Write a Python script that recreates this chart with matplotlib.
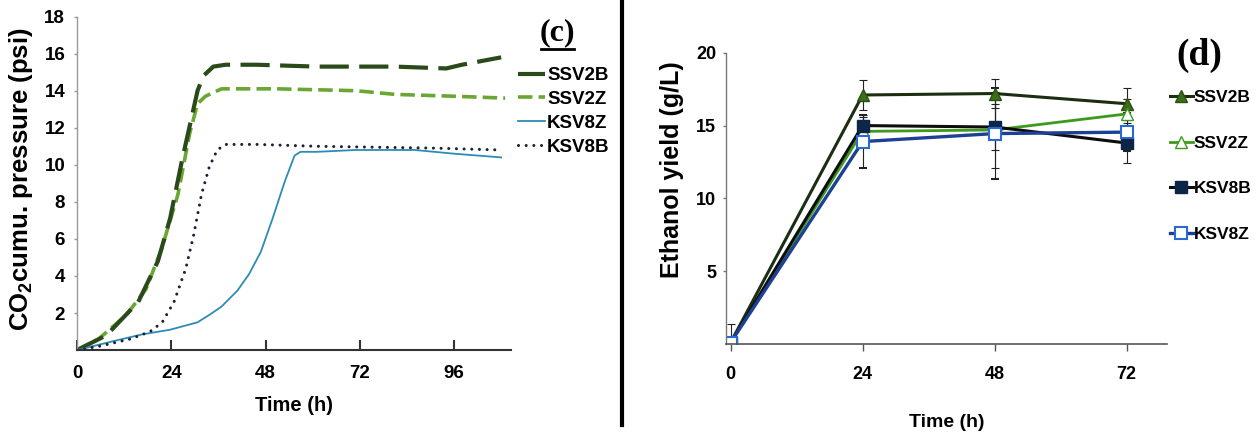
import matplotlib
matplotlib.use("Agg")
import matplotlib.pyplot as plt
from matplotlib.lines import Line2D

plt.rcParams['font.family'] = ['Liberation Sans', 'DejaVu Sans']
plt.rcParams['font.weight'] = 'bold'
plt.rcParams['mathtext.fontset'] = 'custom'
plt.rcParams['mathtext.rm'] = 'Liberation Sans:bold'
plt.rcParams['mathtext.bf'] = 'Liberation Sans:bold'

# ---- panel (c): cumulative CO2 pressure ----
ssv2b_t = [0, 7.5, 15.6, 20.6, 23.7, 26.7, 30.7, 32.2, 34.7, 37.8, 45.8, 61, 81, 94, 98, 103, 108]
ssv2b_p = [0, 0.8, 2.6, 4.8, 7.1, 10.2, 14.0, 14.8, 15.3, 15.4, 15.4, 15.3, 15.3, 15.2, 15.4, 15.6, 15.8]

ssv2z_t = [0, 5.5, 12.6, 17.6, 21.6, 25.7, 28.7, 30.7, 32.7, 36.8, 50.8, 71, 81, 96, 109]
ssv2z_p = [0, 0.6, 1.9, 3.3, 5.5, 8.4, 11.7, 13.3, 13.7, 14.1, 14.1, 14.0, 13.8, 13.7, 13.6]

ksv8z_t = [0, 8.6, 16.6, 23.7, 30.7, 33.7, 36.8, 40.8, 43.8, 46.8, 49.8, 52.9, 55.4, 56.9, 61, 71, 86, 96, 108]
ksv8z_p = [0, 0.45, 0.85, 1.1, 1.5, 1.9, 2.35, 3.2, 4.1, 5.3, 7.1, 9.1, 10.5, 10.7, 10.7, 10.8, 10.8, 10.6, 10.4]

ksv8b_t = [0, 5.5, 13.6, 18.6, 21.7, 24.7, 27.7, 29.7, 31.7, 33.7, 35.7, 37.8, 45.8, 61, 91, 108]
ksv8b_p = [0, 0.2, 0.6, 1.0, 1.5, 2.6, 4.4, 6.2, 8.4, 9.9, 10.8, 11.1, 11.1, 11.0, 10.9, 10.8]

# ---- panel (d): ethanol yield ----
time_d = [0, 24, 48, 72]
ssv2b_y = [0.1, 17.1, 17.2, 16.5]
ssv2b_e = [0.0, 1.0, 1.0, 1.1]
ssv2z_y = [0.1, 14.6, 14.7, 15.8]
ssv2z_e = [1.3, 1.0, 2.6, 1.0]
ksv8b_y = [0.1, 15.0, 14.9, 13.8]
ksv8b_e = [0.0, 0.7, 1.6, 1.4]
ksv8z_y = [0.1, 13.9, 14.45, 14.55]
ksv8z_e = [0.0, 1.8, 3.1, 1.3]

fig = plt.figure(figsize=(12.58, 4.36), dpi=100)

# ---------------- left panel ----------------
ax1 = fig.add_axes([0.0612, 0.197, 0.345, 0.765])
ax1.plot(ssv2z_t, ssv2z_p, color='#6aa632', lw=2.6, dashes=(4, 1.7), label='SSV2Z')
ax1.plot(ssv2b_t, ssv2b_p, color='#2b4a1a', lw=3, dashes=(7, 2.5), label='SSV2B')
ax1.plot(ksv8z_t, ksv8z_p, color='#2d8bb5', lw=1.3, label='KSV8Z')
ax1.plot(ksv8b_t, ksv8b_p, color='#1a2233', lw=2.2, dashes=(0.01, 2.5),
         dash_capstyle='round', label='KSV8B')

ax1.set_xlim(0, 110.5)
ax1.set_ylim(0, 18)
ax1.set_xticks([0, 24, 48, 72, 96])
ax1.set_yticks(range(2, 19, 2))
for s in ['top', 'right']:
    ax1.spines[s].set_visible(False)
ax1.spines['left'].set_color('#999999')
ax1.spines['left'].set_linewidth(1)
ax1.spines['bottom'].set_color('#333333')
ax1.spines['bottom'].set_linewidth(1.5)
ax1.tick_params(axis='x', direction='in', length=7, width=1.5, color='#333333',
                pad=11, labelsize=13.5)
ax1.tick_params(axis='y', direction='out', length=2.5, width=1, color='#999999',
                pad=6, labelsize=13.5)
ax1.set_xlabel('Time (h)', fontsize=14.5, fontweight='bold', labelpad=10)
fig.text(0.017, 0.59, 'CO$_{2}$cumu. pressure (psi)', rotation=90, fontsize=18.5,
         fontweight='bold', ha='center', va='center')

h, l = ax1.get_legend_handles_labels()
order = [1, 0, 2, 3]
ax1.legend([h[i] for i in order], [l[i] for i in order], loc='upper left',
           bbox_to_anchor=(518 / 1258, 1 - 67 / 436), bbox_transform=fig.transFigure,
           frameon=False, fontsize=13.5, handlelength=1.45, handletextpad=0.1,
           labelspacing=0.36, borderpad=0, borderaxespad=0)

fig.text(557 / 1258, 1 - 33 / 436, '(c)', family='Liberation Serif', fontsize=23,
         fontweight='bold', ha='center', va='center')
fig.add_artist(Line2D([541 / 1258, 574 / 1258], [1 - 49.5 / 436, 1 - 49.5 / 436],
                      color='black', lw=2))

# divider
fig.add_artist(Line2D([622 / 1258, 622 / 1258], [0.025, 1.0], color='black', lw=3))

# ---------------- right panel ----------------
ax2 = fig.add_axes([0.5775, 0.211, 0.350, 0.668])
ax2.errorbar(time_d, ssv2b_y, yerr=ssv2b_e, color='#1c2e12', lw=2.2, marker='^',
             ms=8, mfc='#3b6e1a', mec='#2b5010', ecolor='#222222', elinewidth=0.8,
             capsize=3, capthick=0.8, label='SSV2B')
ax2.errorbar(time_d, ssv2z_y, yerr=ssv2z_e, color='#3c9a1c', lw=2, marker='^',
             ms=8, mfc='white', mec='#3c9a1c', ecolor='#222222', elinewidth=0.8,
             capsize=3, capthick=0.8, label='SSV2Z')
ax2.errorbar(time_d, ksv8b_y, yerr=ksv8b_e, color='#0d0d0d', lw=2.2, marker='s',
             ms=8.5, mfc='#0d2547', mec='#0d2547', ecolor='#222222', elinewidth=0.8,
             capsize=3, capthick=0.8, label='KSV8B')
ax2.errorbar(time_d, ksv8z_y, yerr=ksv8z_e, color='#1d3f94', lw=2.4, marker='s',
             ms=8.5, mfc='white', mec='#2a6ad0', mew=1.5, ecolor='#222222',
             elinewidth=0.8, capsize=3, capthick=0.8, label='KSV8Z')
ax2.plot(time_d, ksv8z_y, color='#3fc8f0', lw=0.8)

ax2.set_xlim(-0.75, 79.3)
ax2.set_ylim(0, 20)
ax2.set_xticks(time_d)
ax2.set_yticks([5, 10, 15, 20])
for s in ['top', 'right']:
    ax2.spines[s].set_visible(False)
ax2.spines['left'].set_color('#777777')
ax2.spines['left'].set_linewidth(1)
ax2.spines['bottom'].set_color('#555555')
ax2.spines['bottom'].set_linewidth(1.2)
ax2.tick_params(axis='x', direction='out', length=5, width=1, color='#555555',
                pad=11, labelsize=13)
ax2.tick_params(axis='y', direction='out', length=2.5, width=1, color='#777777',
                pad=5, labelsize=13)
ax2.set_xlabel('Time (h)', fontsize=14, fontweight='bold', labelpad=22)
fig.text(672 / 1258, 1 - 170 / 436, 'Ethanol yield (g/L)', rotation=90, fontsize=18,
         fontweight='bold', ha='center', va='center')

h2, l2 = ax2.get_legend_handles_labels()
h2 = [c[0] for c in h2]  # line+marker only, no error bars in legend
ax2.legend(h2, l2, loc='upper left', bbox_to_anchor=(1170 / 1258, 1 - 90 / 436),
           bbox_transform=fig.transFigure, frameon=False, fontsize=12.5,
           handlelength=1.3, handletextpad=0.05, labelspacing=1.75,
           borderpad=0, borderaxespad=0)

fig.text(1199 / 1258, 1 - 55 / 436, '(d)', family='Liberation Serif', fontsize=27,
         ha='center', va='center')

fig.savefig('out.png', dpi=100)
